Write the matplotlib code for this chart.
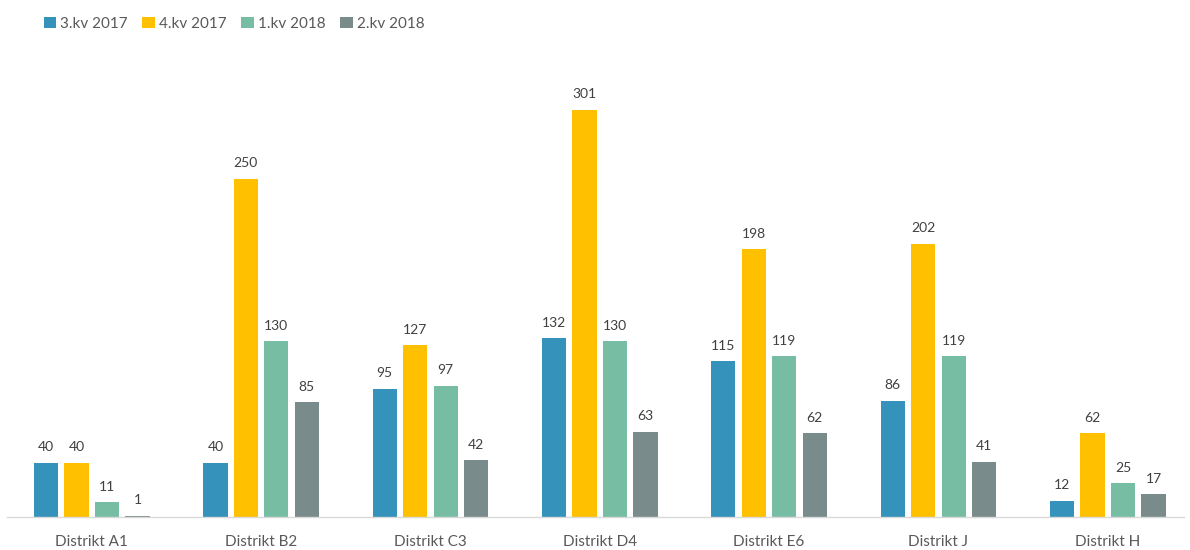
import matplotlib
matplotlib.use("Agg")
import matplotlib.pyplot as plt
import numpy as np

categories = ["Distrikt A1", "Distrikt B2", "Distrikt C3", "Distrikt D4", "Distrikt E6", "Distrikt J", "Distrikt H"]
series_names = ["3.kv 2017", "4.kv 2017", "1.kv 2018", "2.kv 2018"]
q3_2017 = [40, 40, 95, 132, 115, 86, 12]
q4_2017 = [40, 250, 127, 301, 198, 202, 62]
q1_2018 = [11, 130, 97, 130, 119, 119, 25]
q2_2018 = [1, 85, 42, 63, 62, 41, 17]
colors = ["#3592BB", "#FFC000", "#76BDA4", "#7A8B8B"]

plt.rcParams['font.family'] = ['Lato', 'DejaVu Sans']

fig = plt.figure(figsize=(11.9, 5.5), dpi=100)
ax = fig.add_axes([0.006, 0.06, 0.996, 0.836])

x = np.arange(len(categories))
step = 0.18
width = 0.143
all_series = [q3_2017, q4_2017, q1_2018, q2_2018]
for i, (vals, name, c) in enumerate(zip(all_series, series_names, colors)):
    pos = x + (i - 1.5) * step
    bars = ax.bar(pos, vals, width=width, color=c, label=name, linewidth=0)
    for b, v in zip(bars, vals):
        ax.text(b.get_x() + b.get_width() / 2, v + 7, str(v), ha="center", va="bottom",
                fontsize=10, color="#404040")

ax.set_xlim(-0.5, len(categories) - 0.5)
ax.set_ylim(0, 340)
ax.set_xticks(x)
ax.set_xticklabels(categories, fontsize=11, color="#595959")
ax.tick_params(axis="x", length=0, pad=13)
ax.set_yticks([])
for s in ["top", "right", "left"]:
    ax.spines[s].set_visible(False)
ax.spines["bottom"].set_color("#D9D9D9")
ax.spines["bottom"].set_linewidth(1)
ax.spines["bottom"].set_bounds(-0.5, 6.45)

leg = fig.legend(loc="upper left", bbox_to_anchor=(0.025, 0.995), ncol=4, frameon=False,
                 fontsize=11, handlelength=0.8, handleheight=0.8, handletextpad=0.3,
                 columnspacing=0.95, labelcolor="#595959")

fig.savefig("out.png", dpi=100)
